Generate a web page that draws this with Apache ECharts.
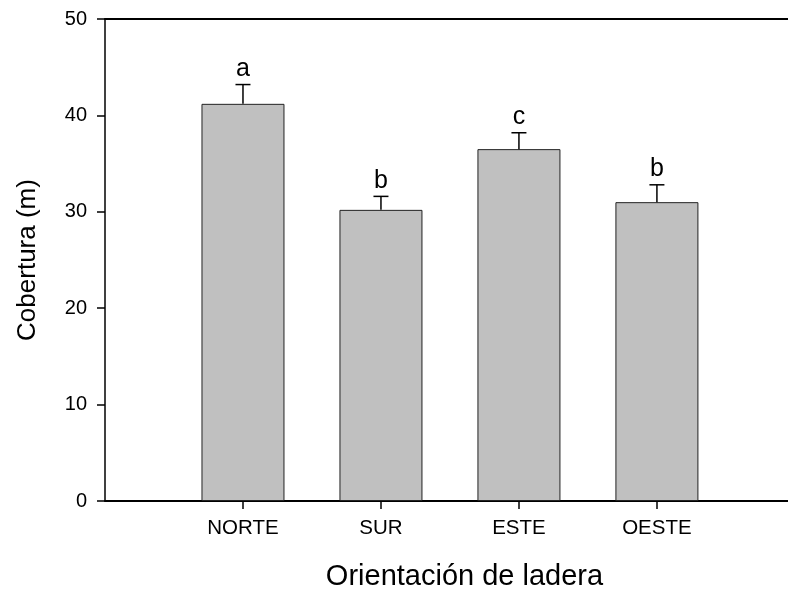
<!DOCTYPE html>
<html>
<head>
<meta charset="utf-8">
<script src="https://cdn.jsdelivr.net/npm/echarts@6/dist/echarts.min.js"></script>
<style>
  html, body { margin: 0; padding: 0; background: #fff; }
  #chart { width: 788px; height: 596px; }
</style>
</head>
<body>
<div id="chart"></div>
<script>
// Cobertura media por orientación de ladera, con error estándar y letras de significancia
const categories = ['NORTE', 'SUR', 'ESTE', 'OESTE'];
const categoryPositions = [1, 2, 3, 4];
const means = [41.2, 30.2, 36.5, 31.0];
const errors = [2.0, 1.4, 1.7, 1.8];
const letters = ['a', 'b', 'c', 'b'];
const yTicks = [0, 10, 20, 30, 40, 50];

const FONT = '"Liberation Sans", Arial, Helvetica, sans-serif';

const barData = categoryPositions.map((x, i) => [x, means[i]]);
const errData = categoryPositions.map((x, i) => [x, means[i], errors[i]]);

const chart = echarts.init(document.getElementById('chart'), null, { renderer: 'canvas' });

chart.setOption({
  animation: false,
  backgroundColor: '#ffffff',
  grid: { left: 105, right: 0, top: 19, bottom: 93.5, containLabel: false },
  xAxis: [
    {
      type: 'value',
      min: 0,
      max: 4.95,
      interval: 1,
      position: 'bottom',
      splitLine: { show: false },
      axisLine: { show: true, onZero: false, lineStyle: { color: '#000', width: 2 } },
      axisTick: {
        show: true, customValues: categoryPositions, length: 8, inside: false,
        lineStyle: { color: '#000', width: 1.5 }
      },
      axisLabel: {
        customValues: categoryPositions,
        formatter: v => categories[categoryPositions.indexOf(Math.round(v))] || '',
        color: '#000', fontFamily: FONT, fontSize: 20.5, margin: 17
      },
      name: 'Orientación de ladera',
      nameLocation: 'middle',
      nameGap: 61,
      nameTextStyle: {
        color: '#000', fontFamily: FONT, fontSize: 29,
        padding: [0, 0, 0, 36]
      }
    },
    {
      type: 'value',
      min: 0,
      max: 4.95,
      position: 'top',
      splitLine: { show: false },
      axisLine: { show: true, onZero: false, lineStyle: { color: '#000', width: 2 } },
      axisTick: { show: false },
      axisLabel: { show: false }
    }
  ],
  yAxis: {
    type: 'value',
    min: 0,
    max: 50,
    interval: 10,
    splitLine: { show: false },
    axisLine: { show: true, onZero: false, lineStyle: { color: '#000', width: 1.5 } },
    axisTick: { show: true, length: 8, lineStyle: { color: '#000', width: 1.5 } },
    axisLabel: {
      customValues: yTicks,
      color: '#000', fontFamily: FONT, fontSize: 20, margin: 18
    },
    name: 'Cobertura (m)',
    nameLocation: 'middle',
    nameGap: 64,
    nameRotate: 90,
    nameTextStyle: { color: '#000', fontFamily: FONT, fontSize: 26 }
  },
  series: [
    {
      type: 'bar',
      data: barData,
      barWidth: 83,
      itemStyle: { color: '#c0c0c0', borderColor: '#222', borderWidth: 1 },
      z: 2
    },
    {
      type: 'custom',
      data: errData,
      z: 3,
      renderItem: function (params, api) {
        const x = api.value(0);
        const m = api.value(1);
        const e = api.value(2);
        const base = api.coord([x, m]);
        const top = api.coord([x, m + e]);
        const cap = 7.5;
        return {
          type: 'group',
          children: [
            {
              type: 'line',
              shape: { x1: base[0], y1: base[1], x2: top[0], y2: top[1] },
              style: { stroke: '#000', lineWidth: 1.5 }
            },
            {
              type: 'line',
              shape: { x1: top[0] - cap, y1: top[1], x2: top[0] + cap, y2: top[1] },
              style: { stroke: '#000', lineWidth: 1.5 }
            },
            {
              type: 'text',
              style: {
                text: letters[params.dataIndex],
                x: top[0],
                y: top[1] - 3,
                align: 'center',
                verticalAlign: 'bottom',
                fill: '#000',
                font: '25px ' + FONT
              }
            }
          ]
        };
      }
    }
  ]
});
</script>
</body>
</html>
